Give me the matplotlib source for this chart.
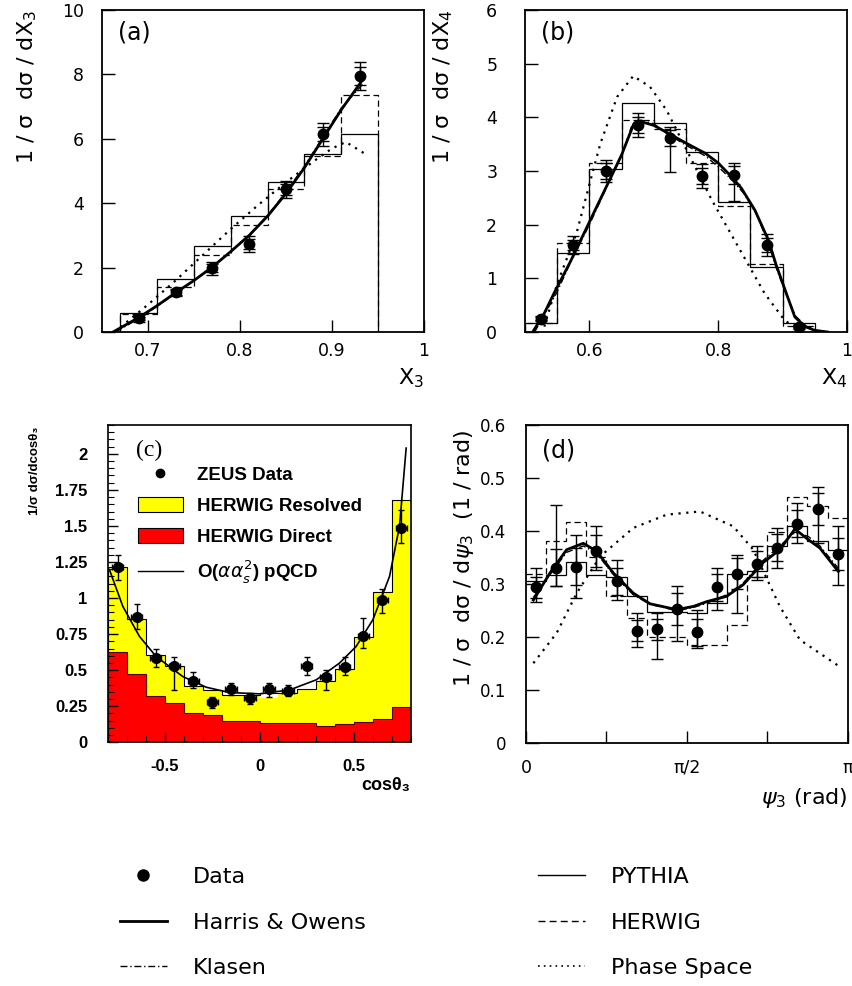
import numpy as np
import matplotlib
matplotlib.use('Agg')
import matplotlib.pyplot as plt
from matplotlib.lines import Line2D
from matplotlib.patches import Patch
from matplotlib.ticker import MultipleLocator, FixedLocator

plt.rcParams['font.family'] = ['DejaVu Sans']
plt.rcParams['mathtext.fontset'] = 'dejavusans'

# ---------------- Panel (a): X3 ----------------
a_edges = [0.67, 0.71, 0.75, 0.79, 0.83, 0.87, 0.91, 0.95]
a_pythia = [0.60, 1.66, 2.68, 3.61, 4.67, 5.53, 6.15]
a_herwig = [0.55, 1.39, 2.38, 3.31, 4.44, 5.48, 7.37]
a_x = [0.69, 0.73, 0.77, 0.81, 0.85, 0.89, 0.93]
a_y = [0.42, 1.23, 1.98, 2.73, 4.43, 6.14, 7.95]
a_err = [0.10, 0.10, 0.20, 0.25, 0.27, 0.35, 0.43]
a_stat = [0.06, 0.07, 0.12, 0.15, 0.17, 0.22, 0.28]
a_ho_x = [0.662, 0.69, 0.71, 0.73, 0.75, 0.77, 0.79, 0.81, 0.83, 0.85, 0.87, 0.89, 0.91, 0.935]
a_ho_y = [0.0, 0.45, 0.82, 1.22, 1.60, 2.02, 2.50, 3.00, 3.60, 4.30, 5.10, 6.00, 6.90, 7.90]
a_kl_x = [0.665, 0.69, 0.71, 0.73, 0.75, 0.77, 0.79, 0.81, 0.83, 0.85, 0.87, 0.89, 0.91, 0.935]
a_kl_y = [0.0, 0.42, 0.80, 1.20, 1.60, 2.03, 2.50, 3.02, 3.62, 4.35, 5.15, 6.05, 6.95, 7.75]
a_ph_x = [0.67, 0.70, 0.73, 0.76, 0.79, 0.82, 0.85, 0.88, 0.90, 0.915, 0.935]
a_ph_y = [0.15, 0.85, 1.60, 2.40, 3.20, 3.95, 4.65, 5.30, 5.70, 5.90, 5.55]

# ---------------- Panel (b): X4 ----------------
b_edges = [0.50, 0.55, 0.60, 0.65, 0.70, 0.75, 0.80, 0.85, 0.90, 0.95]
b_pythia = [0.17, 1.47, 3.03, 4.27, 3.90, 3.36, 2.42, 1.22, 0.17]
b_herwig = [0.17, 1.65, 3.15, 3.95, 3.79, 3.14, 2.35, 1.26, 0.12]
b_x = [0.525, 0.575, 0.625, 0.675, 0.725, 0.775, 0.825, 0.875, 0.925]
b_y = [0.25, 1.62, 3.00, 3.86, 3.61, 2.91, 2.92, 1.62, 0.10]
b_err_up = [0.05, 0.17, 0.20, 0.22, 0.21, 0.22, 0.23, 0.20, 0.05]
b_err_lo = [0.05, 0.17, 0.20, 0.22, 0.62, 0.22, 0.47, 0.20, 0.05]
b_stat = [0.03, 0.10, 0.14, 0.15, 0.15, 0.15, 0.17, 0.13, 0.03]
b_ho_x = [0.512, 0.53, 0.545, 0.57, 0.60, 0.63, 0.65, 0.669, 0.68, 0.70, 0.72, 0.75, 0.78,
          0.80, 0.82, 0.836, 0.857, 0.878, 0.89, 0.904, 0.919, 0.935, 0.95, 0.97]
b_ho_y = [0.0, 0.35, 0.72, 1.30, 2.05, 2.80, 3.30, 3.88, 3.92, 3.85, 3.72, 3.52, 3.33,
          3.15, 2.90, 2.68, 2.27, 1.71, 1.25, 0.78, 0.28, 0.10, 0.03, 0.0]
b_kl_x = [0.515, 0.53, 0.55, 0.57, 0.60, 0.63, 0.65, 0.665, 0.68, 0.70, 0.72, 0.75, 0.78,
          0.80, 0.82, 0.84, 0.86, 0.878, 0.89, 0.904, 0.92, 0.935, 0.95, 0.97]
b_kl_y = [0.0, 0.32, 0.75, 1.28, 2.00, 2.78, 3.28, 3.82, 3.95, 3.88, 3.70, 3.48, 3.28,
          3.08, 2.85, 2.58, 2.18, 1.65, 1.20, 0.75, 0.30, 0.12, 0.04, 0.0]
b_ph_x = [0.53, 0.55, 0.58, 0.60, 0.617, 0.643, 0.668, 0.694, 0.72, 0.751, 0.79, 0.831,
          0.872, 0.903, 0.93]
b_ph_y = [0.10, 0.90, 1.84, 2.75, 3.51, 4.38, 4.77, 4.57, 4.13, 3.39, 2.46, 1.59, 0.72, 0.22, 0.0]

# ---------------- Panel (c): cos theta3 ----------------
c_edges = [-0.8, -0.7, -0.6, -0.5, -0.4, -0.3, -0.2, -0.1, 0.0, 0.1, 0.2, 0.3, 0.4, 0.5, 0.6, 0.7, 0.8]
c_resolved = [1.215, 0.854, 0.606, 0.532, 0.391, 0.363, 0.329, 0.329, 0.306, 0.340, 0.368,
              0.426, 0.507, 0.727, 1.042, 1.678]
c_outline = [1.215, 0.854, 0.606, 0.532, 0.391, 0.363, 0.329, 0.329, 0.340, 0.340, 0.368,
             0.426, 0.507, 0.727, 1.042, 1.678]
c_direct = [0.625, 0.475, 0.324, 0.275, 0.201, 0.190, 0.150, 0.150, 0.137, 0.132, 0.132,
            0.113, 0.127, 0.144, 0.160, 0.243]
c_x = [-0.75, -0.65, -0.55, -0.45, -0.35, -0.25, -0.15, -0.05, 0.05, 0.15, 0.25, 0.35,
       0.45, 0.55, 0.65, 0.75]
c_y = [1.215, 0.868, 0.583, 0.532, 0.426, 0.278, 0.368, 0.306, 0.368, 0.359, 0.532, 0.451,
       0.525, 0.738, 0.984, 1.486]
c_err_up = [0.085, 0.093, 0.063, 0.058, 0.058, 0.039, 0.046, 0.039, 0.046, 0.039, 0.058,
            0.051, 0.063, 0.123, 0.079, 0.127]
c_err_lo = [0.088, 0.083, 0.058, 0.169, 0.051, 0.042, 0.039, 0.040, 0.051, 0.037, 0.064,
            0.088, 0.057, 0.085, 0.088, 0.104]
c_pq_x = [-0.794, -0.723, -0.635, -0.547, -0.406, -0.282, -0.159, 0.0, 0.159, 0.30, 0.423,
          0.511, 0.60, 0.688, 0.741, 0.776]
c_pq_y = [1.197, 0.942, 0.734, 0.595, 0.456, 0.382, 0.345, 0.336, 0.363, 0.433, 0.549,
          0.664, 0.850, 1.150, 1.500, 2.040]

# ---------------- Panel (d): psi3 ----------------
d_edges = np.linspace(0, np.pi, 17)
d_x = [0.098, 0.295, 0.491, 0.687, 0.884, 1.080, 1.276, 1.473, 1.669, 1.865, 2.062, 2.258,
       2.454, 2.651, 2.847, 3.043]
d_y = [0.294, 0.331, 0.333, 0.363, 0.305, 0.212, 0.215, 0.253, 0.209, 0.294, 0.320, 0.338,
       0.369, 0.414, 0.442, 0.357]
d_top = [0.331, 0.450, 0.393, 0.409, 0.346, 0.245, 0.245, 0.296, 0.252, 0.330, 0.355, 0.371,
         0.406, 0.453, 0.483, 0.409]
d_bot = [0.267, 0.296, 0.274, 0.327, 0.270, 0.182, 0.158, 0.192, 0.179, 0.252, 0.245, 0.308,
         0.330, 0.377, 0.377, 0.299]
d_stat = [0.020, 0.035, 0.035, 0.030, 0.025, 0.020, 0.020, 0.030, 0.025, 0.025, 0.030, 0.025,
          0.025, 0.025, 0.030, 0.030]
d_pythia = [0.306, 0.318, 0.342, 0.318, 0.313, 0.277, 0.248, 0.248, 0.245, 0.264, 0.319,
            0.324, 0.371, 0.409, 0.382, 0.365]
d_herwig = [0.320, 0.381, 0.417, 0.352, 0.277, 0.237, 0.201, 0.200, 0.186, 0.186, 0.223,
            0.314, 0.399, 0.465, 0.447, 0.425]
d_ho_x = [0.072, 0.234, 0.397, 0.56, 0.69, 0.853, 1.048, 1.211, 1.471, 1.634, 1.764, 1.959,
          2.121, 2.317, 2.479, 2.626, 2.756, 2.870, 3.050]
d_ho_y = [0.270, 0.321, 0.365, 0.377, 0.362, 0.321, 0.283, 0.263, 0.252, 0.258, 0.267, 0.277,
          0.299, 0.341, 0.365, 0.404, 0.384, 0.368, 0.324]
d_kl_x = [0.072, 0.234, 0.397, 0.56, 0.69, 0.853, 1.048, 1.211, 1.471, 1.634, 1.764, 1.959,
          2.121, 2.317, 2.479, 2.626, 2.756, 2.870, 3.050]
d_kl_y = [0.275, 0.318, 0.360, 0.372, 0.358, 0.318, 0.280, 0.262, 0.250, 0.256, 0.264, 0.280,
          0.302, 0.345, 0.372, 0.398, 0.390, 0.372, 0.330]
d_ph_x = [0.072, 0.30, 0.495, 0.723, 1.048, 1.374, 1.699, 2.024, 2.219, 2.479, 2.675, 3.082]
d_ph_y = [0.151, 0.208, 0.283, 0.352, 0.406, 0.431, 0.437, 0.409, 0.365, 0.258, 0.195, 0.142]

W, H = 852, 986
fig = plt.figure(figsize=(W / 100, H / 100), dpi=100)


def frac(l, t, r, b):
    return [l / W, 1 - b / H, (r - l) / W, (b - t) / H]


DASH = (0, (5, 3))
DOT = (0, (1, 2.5))
DDOT = (0, (5, 2, 1, 2))


def paw_style(ax, ypad, xpad):
    for s in ax.spines.values():
        s.set_linewidth(1.3)
    ax.tick_params(direction='in', length=9, width=1.0, labelsize=12.5,
                   top=False, right=False)
    ax.tick_params(axis='y', pad=ypad)
    ax.tick_params(axis='x', pad=xpad)


def data_points(ax, x, y, yerr, stat, ms=7.5):
    ax.errorbar(x, y, yerr=yerr, fmt='o', color='black', ms=ms, capsize=4,
                elinewidth=1, capthick=1)
    ax.errorbar(x, y, yerr=stat, fmt='none', ecolor='black', capsize=4,
                elinewidth=1, capthick=1)


# ---- (a)
axA = fig.add_axes(frac(102, 10, 424, 332))
axA.stairs(a_pythia, a_edges, baseline=0, color='black', lw=0.9)
axA.stairs(a_herwig, a_edges, baseline=0, color='black', lw=0.9, linestyle=DASH)
axA.plot(a_ph_x, a_ph_y, color='black', lw=1.6, linestyle=DOT)
axA.plot(a_kl_x, a_kl_y, color='black', lw=1.0, linestyle=DDOT)
axA.plot(a_ho_x, a_ho_y, color='black', lw=2.0)
data_points(axA, a_x, a_y, a_err, a_stat)
axA.set_xlim(0.65, 1.0)
axA.set_ylim(0, 10)
axA.set_xticks([0.7, 0.8, 0.9, 1.0], ['0.7', '0.8', '0.9', '1'])
axA.set_yticks([0, 2, 4, 6, 8, 10], ['0', '2', '4', '6', '8', '10'])
paw_style(axA, 13, 7.5)
axA.text(0.05, 0.93, '(a)', transform=axA.transAxes, fontsize=17, va='center', ha='left')
axA.text(1.0, -0.145, 'X$_3$', transform=axA.transAxes, fontsize=16, ha='right', va='center')
fig.text(27 / W, 1 - 10 / H, '1 / σ  dσ / dX$_3$', rotation=90, fontsize=16, ha='center',
         va='top')

# ---- (b)
axB = fig.add_axes(frac(525, 10, 847, 332))
axB.stairs(b_pythia, b_edges, baseline=0, color='black', lw=0.9)
axB.stairs(b_herwig, b_edges, baseline=0, color='black', lw=0.9, linestyle=DASH)
axB.plot(b_ph_x, b_ph_y, color='black', lw=1.6, linestyle=DOT)
axB.plot(b_kl_x, b_kl_y, color='black', lw=1.0, linestyle=DDOT)
axB.plot(b_ho_x, b_ho_y, color='black', lw=2.0)
data_points(axB, b_x, b_y, [b_err_lo, b_err_up], b_stat)
axB.set_xlim(0.5, 1.0)
axB.set_ylim(0, 6)
axB.set_xticks([0.6, 0.8, 1.0], ['0.6', '0.8', '1'])
axB.set_yticks([0, 1, 2, 3, 4, 5, 6], ['0', '1', '2', '3', '4', '5', '6'])
paw_style(axB, 20, 7.5)
axB.text(0.05, 0.93, '(b)', transform=axB.transAxes, fontsize=17, va='center', ha='left')
axB.text(1.0, -0.145, 'X$_4$', transform=axB.transAxes, fontsize=16, ha='right', va='center')
fig.text(443 / W, 1 - 10 / H, '1 / σ  dσ / dX$_4$', rotation=90, fontsize=16, ha='center',
         va='top')

# ---- (c)
BF = ['Liberation Sans', 'DejaVu Sans']
axC = fig.add_axes(frac(108.3, 425, 410.7, 742.3))
axC.stairs(c_resolved, c_edges, baseline=0, fill=True, color='#ffff00')
axC.stairs(c_outline, c_edges, baseline=0, color='black', lw=0.8)
axC.stairs(c_direct, c_edges, baseline=0, fill=True, color='#ff0000')
axC.stairs(c_direct, c_edges, baseline=0, color='#550000', lw=0.8)
axC.plot(c_pq_x, c_pq_y, color='black', lw=1.2)
axC.errorbar(c_x, c_y, yerr=[c_err_lo, c_err_up], xerr=0.03, fmt='o', color='black', ms=7,
             capsize=2, elinewidth=1, capthick=1)
axC.set_xlim(-0.8, 0.8)
axC.set_ylim(0, 2.2)
axC.xaxis.set_major_locator(FixedLocator([-0.5, 0, 0.5]))
axC.xaxis.set_minor_locator(MultipleLocator(0.1))
axC.set_xticklabels(['-0.5', '0', '0.5'])
axC.yaxis.set_major_locator(FixedLocator([0, 0.25, 0.5, 0.75, 1, 1.25, 1.5, 1.75, 2]))
axC.set_yticklabels(['0', '0.25', '0.5', '0.75', '1', '1.25', '1.5', '1.75', '2'])
axC.yaxis.set_minor_locator(MultipleLocator(0.05))
for s in axC.spines.values():
    s.set_linewidth(1.2)
axC.tick_params(which='major', direction='in', length=7, width=1.0, top=False, right=False)
axC.tick_params(which='minor', direction='in', length=4, width=0.8, top=False, right=False)
axC.tick_params(axis='y', pad=15)
axC.tick_params(axis='x', pad=12)
for lab in axC.get_xticklabels() + axC.get_yticklabels():
    lab.set_fontfamily(BF)
    lab.set_fontweight('bold')
    lab.set_fontsize(12)
axC.text(0.09, 0.92, '(c)', transform=axC.transAxes, fontsize=17, va='center', ha='left',
         family=['Liberation Serif', 'DejaVu Serif'])
axC.text(1.0, -0.135, 'cosθ₃', transform=axC.transAxes, fontsize=13, ha='right', va='center',
         family=BF, weight='bold')
fig.text(35 / W, 1 - 427 / H, '1/σ dσ/dcosθ₃', rotation=90, fontsize=9.5, ha='center',
         va='top', family=BF, weight='bold')
c_handles = [Line2D([], [], marker='o', ls='none', color='black', ms=6),
             Patch(facecolor='#ffff00', edgecolor='black', lw=0.8),
             Patch(facecolor='#ff0000', edgecolor='black', lw=0.8),
             Line2D([], [], color='black', lw=1.0)]
c_labels = ['ZEUS Data', 'HERWIG Resolved', 'HERWIG Direct', r'O($\alpha\alpha_s^2$) pQCD']
legC = axC.legend(c_handles, c_labels, loc='upper left', bbox_to_anchor=(0.098, 0.87),
                  frameon=False, prop={'family': BF, 'weight': 'bold', 'size': 13.5},
                  handlelength=2.4, handleheight=0.85, handletextpad=0.75, labelspacing=0.68,
                  borderpad=0, borderaxespad=0)

# ---- (d)
axD = fig.add_axes(frac(526, 425, 847.7, 743.3))
axD.stairs(d_pythia, d_edges, baseline=None, color='black', lw=0.9)
axD.stairs(d_herwig, d_edges, baseline=None, color='black', lw=0.9, linestyle=DASH)
axD.plot(d_ph_x, d_ph_y, color='black', lw=1.6, linestyle=DOT)
axD.plot(d_kl_x, d_kl_y, color='black', lw=1.0, linestyle=DDOT)
axD.plot(d_ho_x, d_ho_y, color='black', lw=2.0)
d_lo = [y - b for y, b in zip(d_y, d_bot)]
d_hi = [t - y for y, t in zip(d_y, d_top)]
data_points(axD, d_x, d_y, [d_lo, d_hi], d_stat)
axD.set_xlim(0, np.pi)
axD.set_ylim(0, 0.6)
axD.set_xticks([0, np.pi / 4, np.pi / 2, 3 * np.pi / 4, np.pi], ['0', '', 'π/2', '', 'π'])
axD.set_yticks([0, 0.1, 0.2, 0.3, 0.4, 0.5, 0.6],
               ['0', '0.1', '0.2', '0.3', '0.4', '0.5', '0.6'])
paw_style(axD, 14, 11)
axD.tick_params(axis='y', labelsize=12)
axD.text(0.05, 0.92, '(d)', transform=axD.transAxes, fontsize=17, va='center', ha='left')
axD.text(1.0, -0.172, r'$\psi_3$ (rad)', transform=axD.transAxes, fontsize=16, ha='right',
         va='center')
fig.text(464 / W, 1 - 430 / H, r'1 / σ  dσ / d$\psi_3$  (1 / rad)', rotation=90,
         fontsize=16, ha='center', va='top')

# ---- bottom legends
h1 = [Line2D([], [], marker='o', ls='none', color='black', ms=8),
      Line2D([], [], color='black', lw=2.0),
      Line2D([], [], color='black', lw=1.0, linestyle=DDOT)]
l1 = ['Data', 'Harris & Owens', 'Klasen']
h2 = [Line2D([], [], color='black', lw=1.0),
      Line2D([], [], color='black', lw=1.0, linestyle=DASH),
      Line2D([], [], color='black', lw=1.2, linestyle=DOT)]
l2 = ['PYTHIA', 'HERWIG', 'Phase Space']
kw = dict(loc='upper left', frameon=False, fontsize=16, handlelength=2.1, handletextpad=1.2,
          labelspacing=1.15, borderpad=0, borderaxespad=0)
fig.legend(h1, l1, bbox_to_anchor=(120 / W, 1 - 867 / H), **kw)
fig.legend(h2, l2, bbox_to_anchor=(538 / W, 1 - 867 / H), **kw)

fig.savefig('out.png', dpi=100)
